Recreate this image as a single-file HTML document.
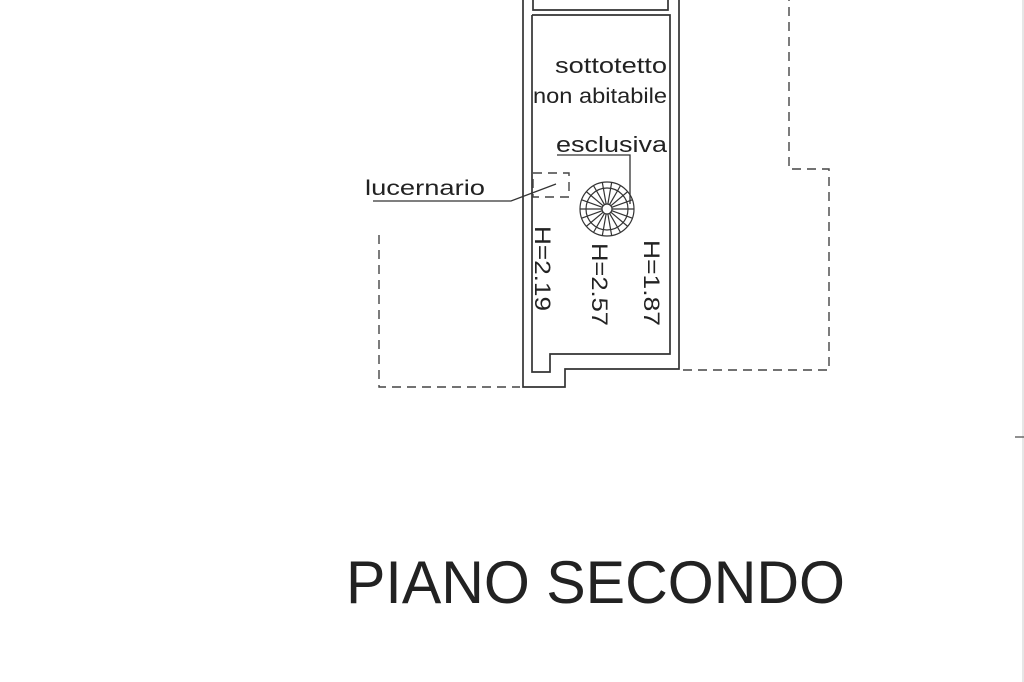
<!DOCTYPE html>
<html><head><meta charset="utf-8"><style>
html,body{margin:0;padding:0;background:#fff;}
svg{display:block;}
text{font-family:"Liberation Sans",Arial,sans-serif;fill:#222;}
</style></head><body>
<svg width="1024" height="682" viewBox="0 0 1024 682" xmlns="http://www.w3.org/2000/svg">
<rect width="1024" height="682" fill="#fff"/>
<g fill="none" stroke="#333" stroke-width="1.7">
  <polyline points="523,0 523,387 565,387 565,369 679,369 679,0"/>
  <polyline points="532,15 532,372 550,372 550,354 670,354 670,15 532,15"/>
  <polyline points="533,0 533,10 668,10 668,0"/>
</g>
<g fill="none" stroke="#444" stroke-width="1.4" stroke-dasharray="9,6">
  <polyline points="379,235 379,387 520,387"/>
  <polyline points="683,370 829,370 829,169 789,169 789,0"/>
  <rect x="533" y="173" width="36" height="24"/>
</g>
<polyline points="373,201 511,201 556,184" fill="none" stroke="#333" stroke-width="1.3"/>
<polyline points="557,155 630,155 630,204" fill="none" stroke="#333" stroke-width="1.3"/>
<g stroke="#333" stroke-width="1.2" fill="none">
  <circle cx="607" cy="209" r="27"/>
  <circle cx="607" cy="209" r="21"/>
  <circle cx="607" cy="209" r="5"/>
  <g id="sp">
    <line x1="612" y1="209" x2="634" y2="209"/>
  </g>
  <use href="#sp" transform="rotate(20 607 209)"/>
  <use href="#sp" transform="rotate(40 607 209)"/>
  <use href="#sp" transform="rotate(60 607 209)"/>
  <use href="#sp" transform="rotate(80 607 209)"/>
  <use href="#sp" transform="rotate(100 607 209)"/>
  <use href="#sp" transform="rotate(120 607 209)"/>
  <use href="#sp" transform="rotate(140 607 209)"/>
  <use href="#sp" transform="rotate(160 607 209)"/>
  <use href="#sp" transform="rotate(180 607 209)"/>
  <use href="#sp" transform="rotate(200 607 209)"/>
  <use href="#sp" transform="rotate(220 607 209)"/>
  <use href="#sp" transform="rotate(240 607 209)"/>
  <use href="#sp" transform="rotate(260 607 209)"/>
  <use href="#sp" transform="rotate(280 607 209)"/>
  <use href="#sp" transform="rotate(300 607 209)"/>
  <use href="#sp" transform="rotate(320 607 209)"/>
  <use href="#sp" transform="rotate(340 607 209)"/>
</g>
<line x1="1023" y1="0" x2="1023" y2="682" stroke="#ccc" stroke-width="1"/>
<line x1="1015" y1="437" x2="1024" y2="437" stroke="#555" stroke-width="1.3"/>
<text x="555" y="73" font-size="22" textLength="112" lengthAdjust="spacingAndGlyphs">sottotetto</text>
<text x="533" y="103" font-size="21" textLength="134" lengthAdjust="spacingAndGlyphs">non abitabile</text>
<text x="556" y="152" font-size="22" textLength="111" lengthAdjust="spacingAndGlyphs">esclusiva</text>
<text x="365" y="195" font-size="21" textLength="120" lengthAdjust="spacingAndGlyphs">lucernario</text>
<text transform="translate(535,226) rotate(90)" font-size="22" textLength="85" lengthAdjust="spacingAndGlyphs">H=2.19</text>
<text transform="translate(592,243) rotate(90)" font-size="22" textLength="83" lengthAdjust="spacingAndGlyphs">H=2.57</text>
<text transform="translate(644,240) rotate(90)" font-size="22" textLength="86" lengthAdjust="spacingAndGlyphs">H=1.87</text>
<text x="346" y="603" font-size="60" textLength="499" lengthAdjust="spacingAndGlyphs">PIANO SECONDO</text>
</svg>
</body></html>
